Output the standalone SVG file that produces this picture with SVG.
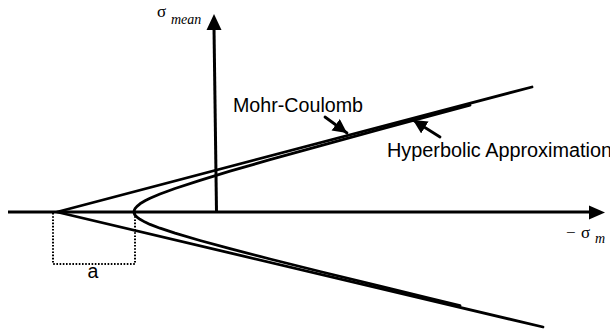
<svg xmlns="http://www.w3.org/2000/svg" width="610" height="330" viewBox="0 0 610 330">
<style>
.ln{fill:none;stroke:#000;stroke-width:2.8;stroke-linecap:round;stroke-linejoin:round}
.ax{fill:none;stroke:#000;stroke-width:3}
.dot{fill:none;stroke:#000;stroke-width:2;stroke-dasharray:1.6 1.6}
.lbl{font-family:"Liberation Sans",Arial,sans-serif;font-size:19.5px;fill:#000}
.sym{font-family:"Liberation Serif","Times New Roman",serif;fill:#000}
.ah{fill:#000}
</style>
<defs>
<marker id="arr" markerUnits="userSpaceOnUse" markerWidth="18" markerHeight="16" refX="14" refY="7" orient="auto">
<path d="M0,0 L14,7 L0,14 Z" fill="#000"/>
</marker>
</defs>
<rect width="610" height="330" fill="#fff"/>
<g id="axes">
<line class="ax" x1="8" y1="212" x2="591" y2="212"/>
<polygon class="ah" points="605,212.5 589,205.5 589,219.5"/>
<line class="ax" x1="214" y1="28" x2="216.5" y2="212"/>
<polygon class="ah" points="214,14 206.5,30 221.5,30"/>
</g>
<g id="mohr-coulomb">
<polyline class="ln" points="532,87 57,212 543,327"/>
</g>
<g id="hyperbola">
<polyline class="ln" points="470,105.2 430,115.9 380,129.4 320,145.8 270,159.7 230,171.2 200,180.3 175,188.5 160,194 150,198.3 145,200.8 140,203.8 137,206.3 135,208.7 134.25,210.4 134,212 134.25,213.5 135,215 137,217.1 140,219.3 145,222.1 150,224.4 160,228.2 175,233.2 200,240.5 230,248.6 270,259 320,271.5 380,286.2 430,298.4 460,305.6"/>
</g>
<g id="dim-a">
<polyline class="dot" points="53,213 53,264 135,264 135,213"/>
<text class="lbl" x="87.5" y="278" font-size="18">a</text>
</g>
<g id="connectors">
<line class="ln" stroke-width="3" x1="325" y1="117" x2="347" y2="133" marker-end="url(#arr)"/>
<line class="ln" stroke-width="3" x1="440" y1="137" x2="413" y2="120" marker-end="url(#arr)"/>
</g>
<g id="labels">
<text class="lbl" x="233" y="112" textLength="130" lengthAdjust="spacingAndGlyphs">Mohr-Coulomb</text>
<text class="lbl" x="387" y="157" textLength="225" lengthAdjust="spacingAndGlyphs">Hyperbolic Approximation</text>
<text class="sym" x="157" y="17" font-size="17">σ<tspan x="171" y="24" font-size="14" font-style="italic">mean</tspan></text>
<text class="sym" x="566" y="238" font-size="17">−<tspan x="581">σ</tspan><tspan x="595" y="243" font-size="14" font-style="italic">m</tspan></text>
</g>
</svg>
